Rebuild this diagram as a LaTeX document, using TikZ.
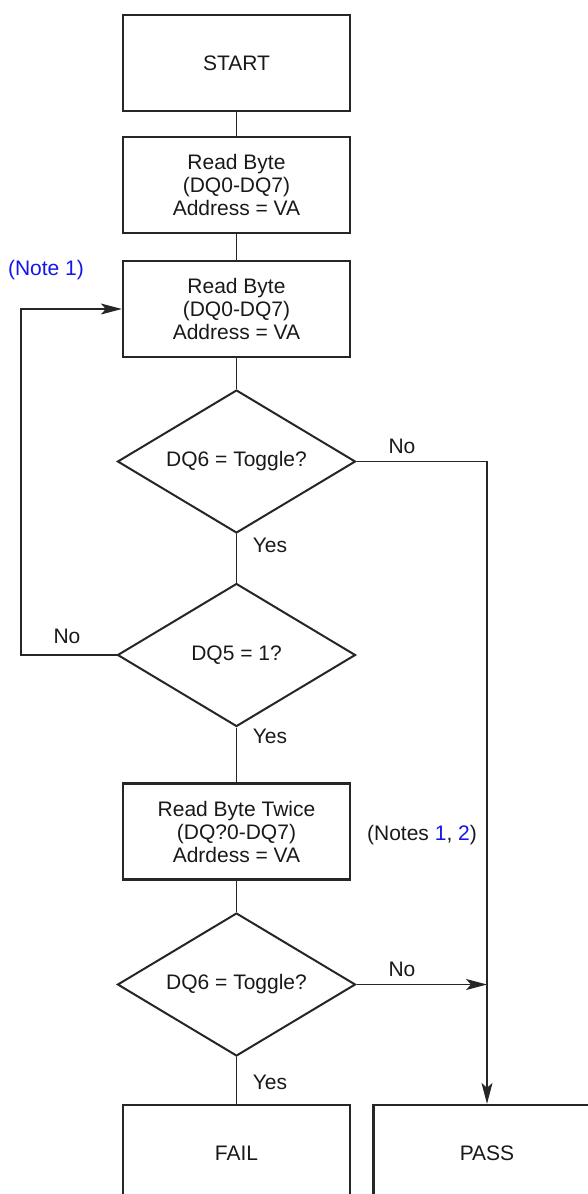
\documentclass[tikz,border=0pt]{standalone}
\usepackage{fontspec}
\setmainfont{Liberation Sans}
\usetikzlibrary{shapes.geometric,arrows.meta}
\definecolor{notecol}{RGB}{20,20,235}
\begin{document}
\begin{tikzpicture}[x=1pt,y=-1pt,
  every node/.style={font=\fontsize{21}{23}\selectfont, text=black!90},
  procbox/.style={draw=black!85, line width=2.3pt, minimum width=227pt, minimum height=96pt, inner sep=0pt, align=center},
  decision/.style={draw=black!85, diamond, line width=2pt, minimum width=238pt, minimum height=143pt, aspect=1.66, inner sep=0pt, align=center},
  conn/.style={draw=black!85, line width=1.2pt},
  arr/.style={conn, -{Stealth[length=21pt, width=11pt, inset=5pt]}},
  lbl/.style={inner sep=0pt}
]
\useasboundingbox (0,0) rectangle (588,1194);
\clip (0,0) rectangle (588,1194);

\node[procbox] (start) at (236.5,63) {START};
\node[procbox] (rb1) at (236.5,185) {Read Byte\\(DQ0-DQ7)\\Address = VA};
\node[procbox] (rb2) at (236.5,309) {Read Byte\\(DQ0-DQ7)\\Address = VA};
\node[decision] (d1) at (236.5,461.5) {DQ6 = Toggle?};
\node[decision] (d2) at (236.5,655) {DQ5 = 1?};
\node[procbox] (rbt) at (236.5,831.5) {Read Byte Twice\\(DQ?0-DQ7)\\Adrdess = VA};
\node[decision] (d3) at (236.5,984.5) {DQ6 = Toggle?};
\node[procbox] (fail) at (236.5,1153) {FAIL};
\node[procbox] (pass) at (487,1153) {PASS};

\coordinate (loopx) at (21,655);
\coordinate (d3hit) at (487,984.5);

\draw[conn] (start.south) -- (rb1.north);
\draw[conn] (rb1.south) -- (rb2.north);
\draw[conn] (rb2.south) -- (d1.north);
\draw[conn] (d1.south) -- (d2.north);
\draw[conn] (d2.south) -- (rbt.north);
\draw[conn] (rbt.south) -- (d3.north);
\draw[conn] (d3.south) -- (fail.north);
\draw[arr] (d1.east) -| (pass.north);
\draw[arr] (d2.west) -- (loopx) |- (rb2.west);
\draw[arr] (d3.east) -- (d3hit);

\node[lbl] (no1) at (402,446) {No};
\node[lbl] (yes1) at (270,545) {Yes};
\node[lbl] (no2) at (67,636) {No};
\node[lbl] (yes2) at (270,736) {Yes};
\node[lbl] (no3) at (402,969) {No};
\node[lbl] (yes3) at (270,1082) {Yes};
\node[lbl, text=notecol] (note1) at (46,270) {(Note 1)};
\node[lbl] (note2) at (422,835) {(Notes \textcolor{notecol}{1}, \textcolor{notecol}{2})};
\end{tikzpicture}
\end{document}
